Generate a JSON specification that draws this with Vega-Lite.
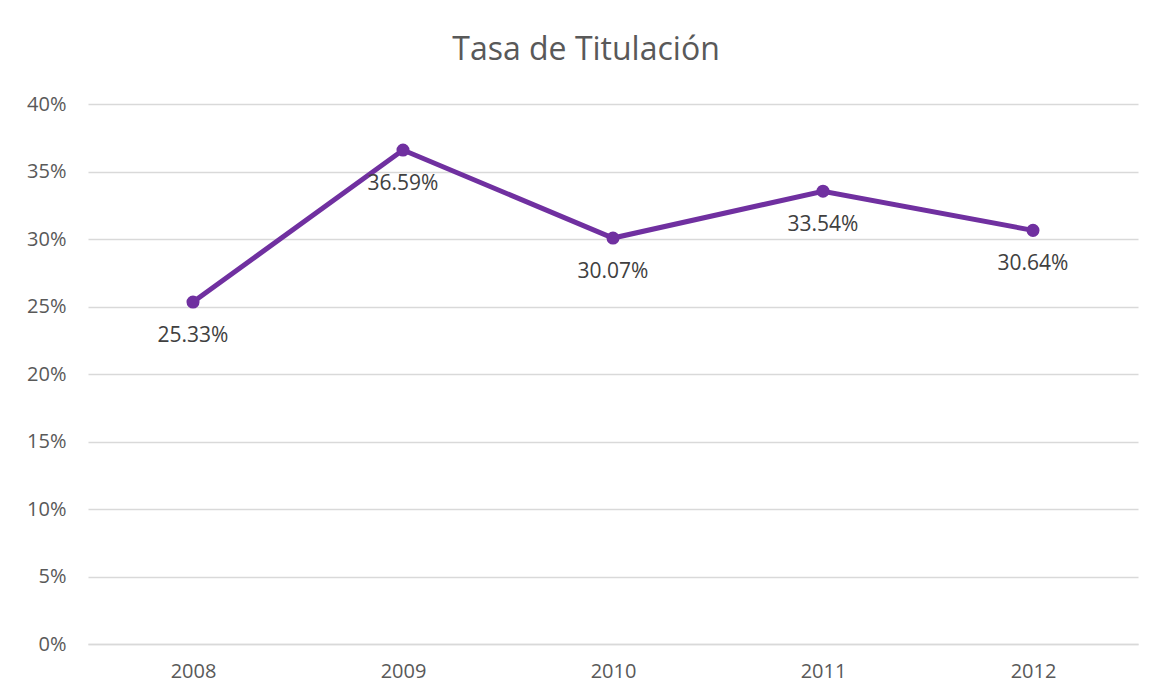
{
  "$schema": "https://vega.github.io/schema/vega-lite/v6.json",
  "width": 1050,
  "height": 540,
  "autosize": {"type": "none"},
  "padding": {"left": 88, "top": 104, "right": 22, "bottom": 56},
  "background": "white",
  "config": {
    "view": {"stroke": null},
    "font": "Open Sans"
  },
  "title": {
    "text": "Tasa de Titulación",
    "fontSize": 32,
    "font": "Open Sans",
    "fontWeight": "normal",
    "color": "#595959",
    "anchor": "middle",
    "dx": -27,
    "offset": 27
  },
  "data": {
    "values": [
      {"year": "2008", "rate": 0.2533},
      {"year": "2009", "rate": 0.3659},
      {"year": "2010", "rate": 0.3007},
      {"year": "2011", "rate": 0.3354},
      {"year": "2012", "rate": 0.3064}
    ]
  },
  "encoding": {
    "x": {
      "field": "year",
      "type": "ordinal",
      "scale": {"type": "point", "padding": 0.5},
      "axis": {
        "title": null,
        "labelAngle": 0,
        "labelFontSize": 20,
        "labelColor": "#595959",
        "labelPadding": 17,
        "ticks": false,
        "domainColor": "#d9d9d9",
        "domainWidth": 1.5,
        "grid": false
      }
    },
    "y": {
      "field": "rate",
      "type": "quantitative",
      "scale": {"domain": [0, 0.4]},
      "axis": {
        "title": null,
        "format": ".0%",
        "values": [0, 0.05, 0.1, 0.15, 0.2, 0.25, 0.3, 0.35, 0.4],
        "labelFontSize": 20,
        "labelColor": "#595959",
        "labelPadding": 22,
        "ticks": false,
        "domain": false,
        "gridColor": "#d9d9d9",
        "gridWidth": 1.5
      }
    }
  },
  "layer": [
    {
      "mark": {"type": "line", "color": "#7030A0", "strokeWidth": 5}
    },
    {
      "mark": {"type": "point", "filled": true, "color": "#7030A0", "size": 170, "opacity": 1}
    },
    {
      "mark": {"type": "text", "fontSize": 21, "color": "#404040", "dy": 34},
      "encoding": {
        "text": {"field": "rate", "type": "quantitative", "format": ".2%"}
      }
    }
  ]
}
